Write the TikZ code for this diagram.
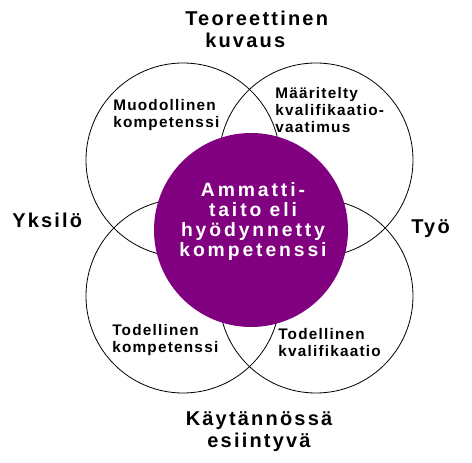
\documentclass[tikz,border=0pt]{standalone}
\usepackage{fontspec}
\setmainfont{Liberation Sans}
\newfontfamily\widefont[LetterSpace=11]{Liberation Sans}
\newfontfamily\corefont[LetterSpace=15]{Liberation Sans}
\newfontfamily\narrowfont[LetterSpace=8]{Liberation Sans}
\definecolor{violetfill}{RGB}{128,0,128}
\begin{document}
\begin{tikzpicture}[x=0.75pt,y=-0.75pt,
  ring/.style={circle,draw,line width=0.6pt,minimum size=145.5pt,inner sep=0pt},
  biglabel/.style={font=\widefont\bfseries\fontsize{15}{16.5}\selectfont,inner sep=0pt},
  smalllabel/.style={font=\narrowfont\bfseries\fontsize{11.5}{12.75}\selectfont,
    align=left,anchor=base west,inner sep=0pt}]
   \useasboundingbox (0,0) rectangle (472,463);
   % the four fields
   \node[ring] (theory) at (183,160) {};
   \node[ring] (defined) at (316,160) {};
   \node[ring] (actual) at (183,296) {};
   \node[ring] (real) at (316,296) {};
   \node[circle,fill=violetfill,minimum size=145.5pt,inner sep=0pt] (core) at (251,230) {};
   \node[align=center,anchor=base,inner sep=0pt,text=white,font=\corefont\bfseries\fontsize{14.5}{15}\selectfont]
     (coretext) at (253,257) {Ammatti-\\taito eli\\hyödynnetty\\kompetenssi};
   % axis labels (base = last line)
   \node[biglabel,align=left,anchor=base west] (top) at (185,48) {Teoreettinen\\\hspace*{15pt}kuvaus};
   \node[biglabel,anchor=base west] (left) at (12,228) {Yksilö};
   \node[biglabel,anchor=base west] (right) at (411,234) {Työ};
   \node[biglabel,align=center,anchor=base] (bottom) at (259,448) {Käytännössä\\esiintyvä};
   % field labels
   \node[smalllabel] (formal) at (113,128) {Muodollinen\\kompetenssi};
   \node[smalllabel] (required) at (275,133) {Määritelty\\kvalifikaatio-\\vaatimus};
   \node[smalllabel] (realcomp) at (112,353) {Todellinen\\kompetenssi};
   \node[smalllabel] (realqual) at (278,357) {Todellinen\\kvalifikaatio};
\end{tikzpicture}
\end{document}
